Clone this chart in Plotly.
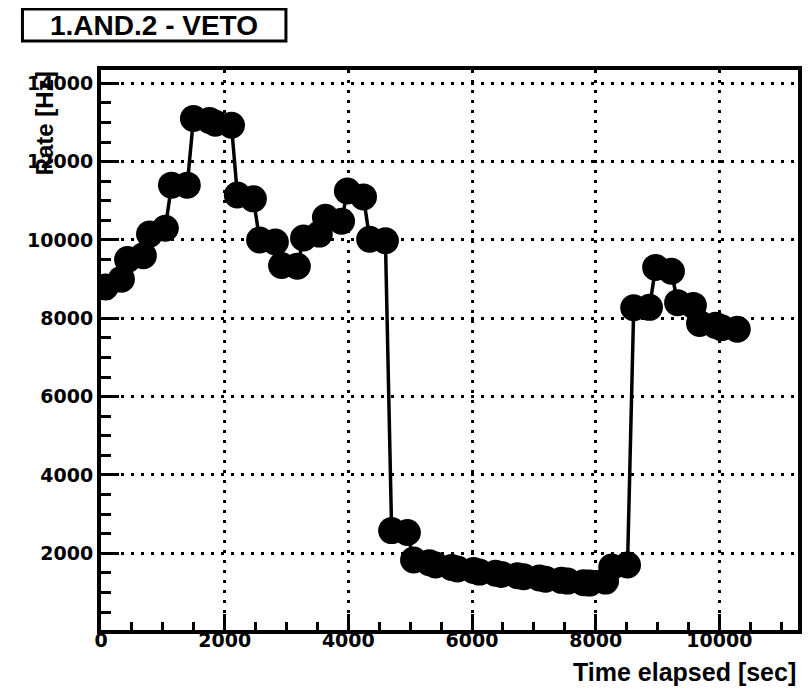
import plotly.graph_objects as go

# ---- data ----
time_sec = [70, 330, 430, 685, 785, 1040, 1140, 1395, 1495, 1755, 1850, 2110,
            2205, 2465, 2565, 2820, 2920, 3175, 3275, 3530, 3630, 3890, 3985, 4245,
            4345, 4600, 4700, 4955, 5055, 5310, 5410, 5670, 5765, 6025, 6120, 6380,
            6480, 6735, 6835, 7090, 7190, 7445, 7545, 7805, 7900, 8160, 8260, 8515,
            8615, 8870, 8970, 9225, 9325, 9580, 9680, 9940, 10035, 10290]
rate_hz = [8800, 9000, 9500, 9600, 10150, 10300, 11400, 11400, 13100, 13050, 12980, 12930,
           11150, 11050, 10000, 9950, 9350, 9330, 10050, 10150, 10580, 10480, 11250, 11100,
           10020, 9980, 2580, 2530, 1830, 1760, 1700, 1640, 1600, 1560, 1520, 1490,
           1460, 1430, 1400, 1370, 1340, 1310, 1290, 1250, 1240, 1290, 1650, 1700,
           8270, 8280, 9300, 9200, 8400, 8330, 7870, 7820, 7760, 7720]

x_range = [0, 11272]
y_range = [42, 14340]
x_ticks = [0, 2000, 4000, 6000, 8000, 10000]
x_tick_labels = ["0", "2000", "4000", "6000", "8000", "10000"]
y_ticks = [2000, 4000, 6000, 8000, 10000, 12000, 14000]
y_tick_labels = ["2000", "4000", "6000", "8000", "10000", "12000", "14000"]

title_text = "1.AND.2 - VETO"
x_title = "Time elapsed [sec]"
y_title = "Rate [Hz]"

# page has an 8px body margin; design in window pixels and shift
OFF = 8
W, H = 810 - OFF, 693 - OFF
PLOT_L, PLOT_R, PLOT_T, PLOT_B = 101, 802, 70, 630  # window pixels
ML, MR, MT, MB = PLOT_L - OFF, W - (PLOT_R - OFF), PLOT_T - OFF, H - (PLOT_B - OFF)
PW, PH = PLOT_R - PLOT_L, PLOT_B - PLOT_T


def px(xp):
    return (xp - PLOT_L) / PW


def py(yp):
    return (PLOT_B - yp) / PH


fig = go.Figure()
fig.add_trace(go.Scatter(
    x=time_sec, y=rate_hz, mode="lines+markers",
    line=dict(color="black", width=3.5),
    marker=dict(color="black", size=27, symbol="circle"),
    showlegend=False, cliponaxis=True,
))

tickfont = dict(family="DejaVu Sans", size=19, color="black", weight="bold")
axis_common = dict(
    showline=True, linecolor="black", linewidth=4, mirror=True,
    showgrid=True, gridcolor="black", gridwidth=3, griddash="3px,7px",
    zeroline=False, ticks="inside", tickcolor="black", tickwidth=3,
    tickfont=tickfont,
)
fig.update_xaxes(range=x_range, tickvals=x_ticks, ticktext=x_tick_labels, ticklen=16,
                 ticklabelstandoff=-10,
                 minor=dict(ticks="inside", ticklen=8, dtick=500, tick0=0, tickcolor="black",
                            tickwidth=3, showgrid=False),
                 **axis_common)
fig.update_yaxes(range=y_range, tickvals=y_ticks, ticktext=y_tick_labels, ticklen=18,
                 minor=dict(ticks="inside", ticklen=10, dtick=500, tick0=0, tickcolor="black",
                            tickwidth=3, showgrid=False),
                 **axis_common)

title_font = dict(family="Liberation Sans", size=25, color="black", weight="bold")
fig.add_shape(type="rect", xref="paper", yref="paper",
              x0=px(22), x1=px(287), y0=py(41), y1=py(9),
              line=dict(color="black", width=3), fillcolor="white", layer="above")
fig.add_annotation(xref="paper", yref="paper", x=px(154.5), y=py(25),
                   text=title_text, showarrow=False, xanchor="center", yanchor="middle",
                   font=dict(family="Liberation Sans", size=28, color="black", weight="bold"))
fig.add_annotation(xref="paper", yref="paper", x=px(801), y=py(672),
                   text=x_title, showarrow=False, xanchor="right", yanchor="middle",
                   font=title_font, borderpad=0)
fig.add_annotation(xref="paper", yref="paper", x=px(44), y=py(70),
                   text=y_title, showarrow=False, xanchor="center", yanchor="top",
                   textangle=-90, font=dict(family="Liberation Sans", size=24,
                                            color="black", weight="bold"), borderpad=0)

fig.update_layout(
    width=W, height=H, autosize=False,
    margin=dict(l=ML, r=MR, t=MT, b=MB),
    paper_bgcolor="white", plot_bgcolor="white",
)

fig.write_html("out.html")
